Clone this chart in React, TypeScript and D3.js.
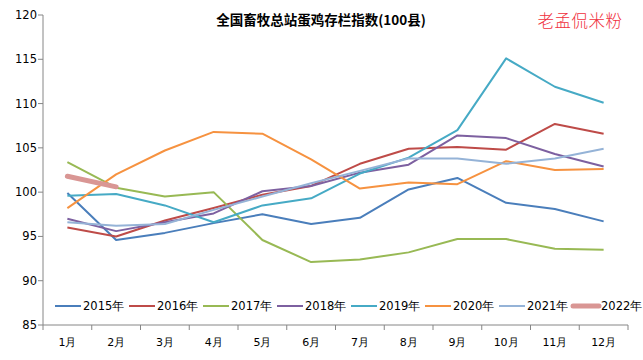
import React from "react";
import * as d3 from "d3";

const months = ["1月","2月","3月","4月","5月","6月","7月","8月","9月","10月","11月","12月"];
const yTicks = [85, 90, 95, 100, 105, 110, 115, 120];
const seriesNames = ["2015年","2016年","2017年","2018年","2019年","2020年","2021年","2022年"];
const seriesColors = ["#4A7EBB","#BE4B48","#98B954","#7D60A0","#46AAC5","#F69240","#95B3D7","#D99694"];

const v2015 = [99.9, 94.6, 95.4, 96.5, 97.5, 96.4, 97.1, 100.3, 101.6, 98.8, 98.1, 96.7];
const v2016 = [96.0, 95.0, 96.8, 98.2, 99.7, 100.7, 103.2, 104.9, 105.1, 104.8, 107.7, 106.6];
const v2017 = [103.4, 100.5, 99.5, 100.0, 94.6, 92.1, 92.4, 93.2, 94.7, 94.7, 93.6, 93.5];
const v2018 = [97.0, 95.6, 96.6, 97.6, 100.1, 100.7, 102.2, 103.1, 106.4, 106.1, 104.3, 102.9];
const v2019 = [99.6, 99.8, 98.5, 96.6, 98.5, 99.3, 102.1, 103.9, 107.0, 115.1, 111.9, 110.1];
const v2020 = [98.2, 102.0, 104.7, 106.8, 106.6, 103.7, 100.4, 101.1, 100.9, 103.5, 102.5, 102.6];
const v2021 = [96.6, 96.2, 96.4, 98.0, 99.5, 101.0, 102.4, 103.8, 103.8, 103.2, 103.8, 104.9];
const v2022 = [101.8, 100.6];

const allValues = [v2015, v2016, v2017, v2018, v2019, v2020, v2021, v2022];

export default function App() {
  const W = 643, H = 360;
  const left = 43, right = 628, top = 15, bottom = 325;
  const x = d3.scaleBand<string>().domain(months).range([left, right]);
  const y = d3.scaleLinear().domain([85, 120]).range([bottom, top]);
  const line = d3.line<number>()
    .x((_, i) => (x(months[i]) as number) + x.bandwidth() / 2)
    .y((d) => y(d));
  const axisColor = "#868686";
  const font = "'DejaVu Sans', Verdana, sans-serif";
  const boundaries = months.map((m) => x(m) as number).concat([right]);
  return (
    <svg width={W} height={H} style={{ position: "absolute", left: 0, top: 0, background: "#fff" }}>
      <rect x={0} y={0} width={W} height={H} fill="#fff" />
      <text x={321} y={25} textAnchor="middle" fontFamily="'Noto Sans CJK SC', sans-serif" fontWeight="bold" fontSize={13.5} fill="#000">全国畜牧总站蛋鸡存栏指数(100县)</text>
      <text x={580} y={27} textAnchor="middle" fontFamily="'Noto Sans CJK SC', sans-serif" fontWeight={300} fontSize={16.5} fill="#F0303C" letterSpacing={0.5}>老孟侃米粉</text>
      {/* y axis */}
      <line x1={left} x2={left} y1={top} y2={bottom} stroke={axisColor} strokeWidth={1} />
      {yTicks.map((t) => (
        <g key={t}>
          <line x1={left - 5} x2={left} y1={y(t)} y2={y(t)} stroke={axisColor} />
          <text x={37} y={y(t) + 4} textAnchor="end" fontFamily={font} fontSize={11.5} fill="#000">{t}</text>
        </g>
      ))}
      {/* x axis */}
      <line x1={left} x2={right} y1={bottom} y2={bottom} stroke={axisColor} />
      {boundaries.map((b, i) => (
        <line key={i} x1={b} x2={b} y1={bottom} y2={bottom + 5} stroke={axisColor} />
      ))}
      {months.map((m) => (
        <text key={m} x={(x(m) as number) + x.bandwidth() / 2} y={346} textAnchor="middle" fontFamily={font} fontSize={11} fill="#000">{m}</text>
      ))}
      {/* lines */}
      {allValues.map((vals, i) => (
        <path key={i} d={line(vals) || ""} fill="none" stroke={seriesColors[i]} strokeWidth={i === 7 ? 5 : 2} strokeLinejoin="round" strokeLinecap={i === 7 ? "round" : "butt"} />
      ))}
      {/* legend */}
      {seriesNames.map((n, i) => {
        const lx = 55 + i * 74;
        return (
          <g key={n}>
            <line x1={lx} x2={lx + 26} y1={306} y2={306} stroke={seriesColors[i]} strokeWidth={i === 7 ? 5 : 2} strokeLinecap={i === 7 ? "round" : "butt"} />
            <text x={lx + 28} y={310} fontFamily={font} fontSize={11.5} fill="#000">{n}</text>
          </g>
        );
      })}
    </svg>
  );
}
